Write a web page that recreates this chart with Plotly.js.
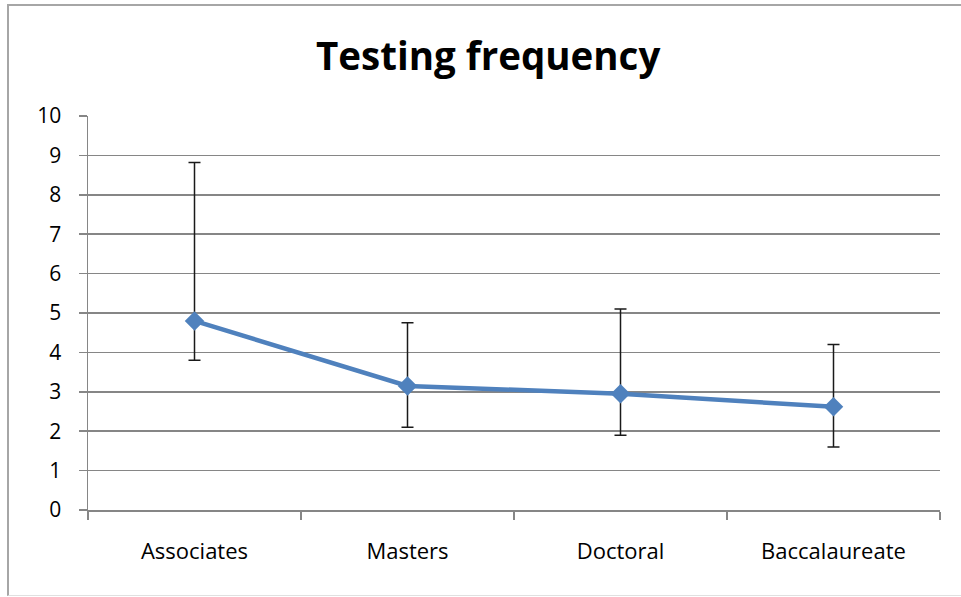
<!DOCTYPE html>
<html>
<head>
<meta charset="utf-8">
<script src="https://cdn.plot.ly/plotly-3.0.1.min.js"></script>
<style>
html, body { margin: 0; padding: 0; background: #fff; }
#wrap { position: relative; width: 961px; height: 597px; overflow: hidden; }
#chart { position: absolute; left: 0; top: 0; width: 961px; height: 597px; }
#frame { position: absolute; left: 7px; top: 4px; width: 960px; height: 589px;
  border-top: 2px solid #a6a6a6; border-left: 2px solid #a6a6a6; border-bottom: 1px solid #e0e0e0; pointer-events: none; }
</style>
</head>
<body>
<div id="wrap">
<div id="chart"></div>
<div id="frame"></div>
</div>
<script>
const categories = ["Associates", "Masters", "Doctoral", "Baccalaureate"];
const means = [4.8, 3.15, 2.95, 2.62];
const upperBounds = [8.82, 4.75, 5.1, 4.2];
const lowerBounds = [3.8, 2.1, 1.9, 1.6];
const yTicks = [0, 1, 2, 3, 4, 5, 6, 7, 8, 9, 10];

const errPlus = means.map((m, i) => upperBounds[i] - m);
const errMinus = means.map((m, i) => m - lowerBounds[i]);

const trace = {
  x: categories,
  y: means,
  type: "scatter",
  mode: "lines+markers",
  line: { color: "#4f81bd", width: 4.5 },
  marker: { symbol: "diamond", size: 15, color: "#4f81bd" },
  error_y: {
    type: "data", symmetric: false,
    array: errPlus, arrayminus: errMinus,
    color: "#1a1a1a", thickness: 1.5, width: 6
  },
  hoverinfo: "skip",
  showlegend: false
};

const font = "'Open Sans', sans-serif";
const layout = {
  width: 961, height: 597,
  margin: { l: 88, r: 21, t: 116, b: 87 },
  paper_bgcolor: "#ffffff",
  plot_bgcolor: "#ffffff",
  title: {
    text: "<b>Testing frequency</b>",
    font: { family: font, size: 38.5, color: "#000" },
    x: 0.508, xanchor: "center", y: 0.905, yanchor: "middle"
  },
  xaxis: {
    type: "category",
    range: [-0.5, 3.5],
    showline: true, linecolor: "#868686", linewidth: 1.5,
    ticks: "outside", tickson: "boundaries", ticklen: 8, tickcolor: "#868686", tickwidth: 1.5,
    showgrid: false, zeroline: false,
    tickfont: { family: font, size: 22, color: "#000" },
    ticklabelstandoff: 21
  },
  yaxis: {
    range: [0, 10],
    tickvals: yTicks,
    showline: true, linecolor: "#868686", linewidth: 1.5,
    ticks: "outside", ticklen: 8, tickcolor: "#868686", tickwidth: 1.5,
    showgrid: true, gridcolor: "#868686", gridwidth: 1.5,
    zeroline: false,
    tickfont: { family: font, size: 21, color: "#000" },
    ticklabelstandoff: 13
  }
};

Plotly.newPlot("chart", [trace], layout, { staticPlot: true, displayModeBar: false });
</script>
</body>
</html>
